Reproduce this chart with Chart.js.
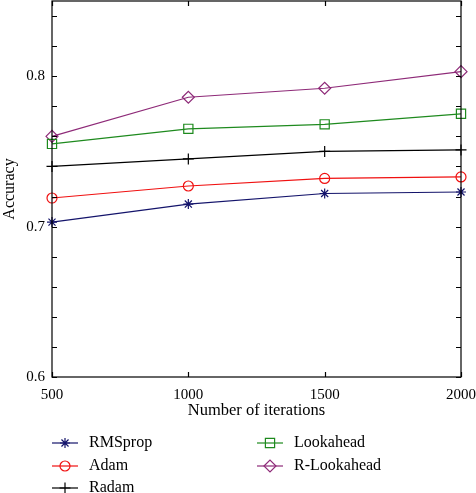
<!DOCTYPE html>
<html>
<head>
<meta charset="utf-8">
<script src="https://cdn.jsdelivr.net/npm/chart.js@4.4.0/dist/chart.umd.min.js"></script>
<style>
  html, body { margin: 0; padding: 0; background: #fff; }
  #wrap { width: 476px; height: 493px; position: relative; }
</style>
</head>
<body>
<div id="wrap"><canvas id="c"></canvas></div>
<script>
// ---- Data ----
const iterations = [500, 1000, 1500, 2000];
const rmsprop    = [0.703, 0.715, 0.722, 0.723];
const adam       = [0.719, 0.727, 0.732, 0.733];
const radam      = [0.740, 0.745, 0.750, 0.751];
const lookahead  = [0.755, 0.765, 0.768, 0.775];
const rLookahead = [0.760, 0.786, 0.792, 0.803];
const seriesNames = ['RMSprop', 'Adam', 'Radam', 'Lookahead', 'R-Lookahead'];
const xTickValues = [500, 1000, 1500, 2000];
const yTickValues = [0.6, 0.62, 0.64, 0.66, 0.68, 0.7, 0.72, 0.74, 0.76, 0.78, 0.8, 0.82, 0.84];
const yLabelValues = [0.6, 0.7, 0.8];

const FONT = "'Liberation Serif', 'Times New Roman', serif";
const styles = [
  { color: '#14146b', point: 'star',    radius: 5 },
  { color: '#f01010', point: 'circle',  radius: 5 },
  { color: '#000000', point: 'cross',   radius: 5.5 },
  { color: '#1e8a1e', point: 'rect',    radius: 6.5 },
  { color: '#8e2a78', point: 'rectRot', radius: 6 }
];
const seriesValues = [rmsprop, adam, radam, lookahead, rLookahead];

const datasets = seriesValues.map((vals, i) => ({
  label: seriesNames[i],
  data: iterations.map((x, j) => ({ x: x, y: vals[j] })),
  borderColor: styles[i].color,
  backgroundColor: 'rgba(0,0,0,0)',
  pointBorderColor: styles[i].color,
  pointBackgroundColor: 'rgba(0,0,0,0)',
  pointStyle: styles[i].point,
  pointRadius: styles[i].radius,
  pointBorderWidth: 1.2,
  borderWidth: 1.2,
  tension: 0,
  clip: false
}));

const framePlugin = {
  id: 'frame',
  afterDraw(chart) {
    const { ctx, chartArea: a, scales } = chart;
    const xs = scales.x, ys = scales.y;
    ctx.save();
    ctx.strokeStyle = '#000';
    ctx.lineWidth = 1.2;
    ctx.strokeRect(a.left, a.top, a.right - a.left, a.bottom - a.top);
    const tl = 5;
    ctx.beginPath();
    yTickValues.forEach(v => {
      const y = Math.round(ys.getPixelForValue(v)) + 0.5;
      ctx.moveTo(a.left, y); ctx.lineTo(a.left + tl, y);
      ctx.moveTo(a.right, y); ctx.lineTo(a.right - tl, y);
    });
    xTickValues.forEach(v => {
      const x = Math.round(xs.getPixelForValue(v)) + 0.5;
      ctx.moveTo(x, a.bottom); ctx.lineTo(x, a.bottom - tl);
      ctx.moveTo(x, a.top); ctx.lineTo(x, a.top + tl);
    });
    ctx.stroke();

    // legend (column-major, two columns)
    const cols = [52, 257];
    const rows = [443, 466, 488];
    ctx.font = '16px ' + FONT;
    ctx.textBaseline = 'middle';
    ctx.textAlign = 'left';
    chart.data.datasets.forEach((ds, i) => {
      const col = Math.floor(i / 3), row = i % 3;
      const x0 = cols[col], y = rows[row];
      ctx.strokeStyle = ds.borderColor;
      ctx.lineWidth = 1.2;
      ctx.beginPath();
      ctx.moveTo(x0, y); ctx.lineTo(x0 + 26, y);
      ctx.stroke();
      ctx.fillStyle = 'rgba(0,0,0,0)';
      Chart.helpers.drawPoint(ctx, {
        pointStyle: ds.pointStyle, radius: ds.pointRadius, rotation: 0, borderWidth: 1.2
      }, x0 + 13, y);
      ctx.fillStyle = '#000';
      ctx.fillText(ds.label, x0 + 37, y);
    });
    ctx.restore();
  }
};

new Chart(document.getElementById('c'), {
  type: 'line',
  data: { datasets },
  options: {
    responsive: true,
    maintainAspectRatio: false,
    animation: false,
    layout: { autoPadding: false, padding: { top: 1, right: 15, bottom: 72, left: 0 } },
    plugins: { legend: { display: false }, tooltip: { enabled: false } },
    scales: {
      x: {
        type: 'linear',
        min: 500, max: 2000,
        grid: { display: false, drawTicks: false },
        border: { display: false },
        afterBuildTicks: s => { s.ticks = xTickValues.map(v => ({ value: v })); },
        afterFit: s => { s.height = 44; s.paddingLeft = 0; s.paddingRight = 0; },
        ticks: { color: '#000', font: { family: FONT, size: 15 }, padding: 9, maxRotation: 0,
                 callback: v => String(v) },
        title: { display: true, text: 'Number of iterations', color: '#000', font: { family: FONT, size: 16.5 }, padding: 0 }
      },
      y: {
        type: 'linear',
        min: 0.6, max: 0.85,
        grid: { display: false, drawTicks: false },
        border: { display: false },
        afterBuildTicks: s => { s.ticks = yTickValues.map(v => ({ value: v })); },
        afterFit: s => { s.width = 52; s.paddingTop = 0; s.paddingBottom = 0; },
        ticks: {
          color: '#000', font: { family: FONT, size: 15 }, padding: 7,
          callback: v => {
            const m = yLabelValues.find(l => Math.abs(l - v) < 1e-6);
            return m !== undefined ? String(m) : '';
          }
        },
        title: { display: true, text: 'Accuracy', color: '#000', font: { family: FONT, size: 16 }, padding: 0 }
      }
    }
  },
  plugins: [framePlugin]
});
</script>
</body>
</html>
